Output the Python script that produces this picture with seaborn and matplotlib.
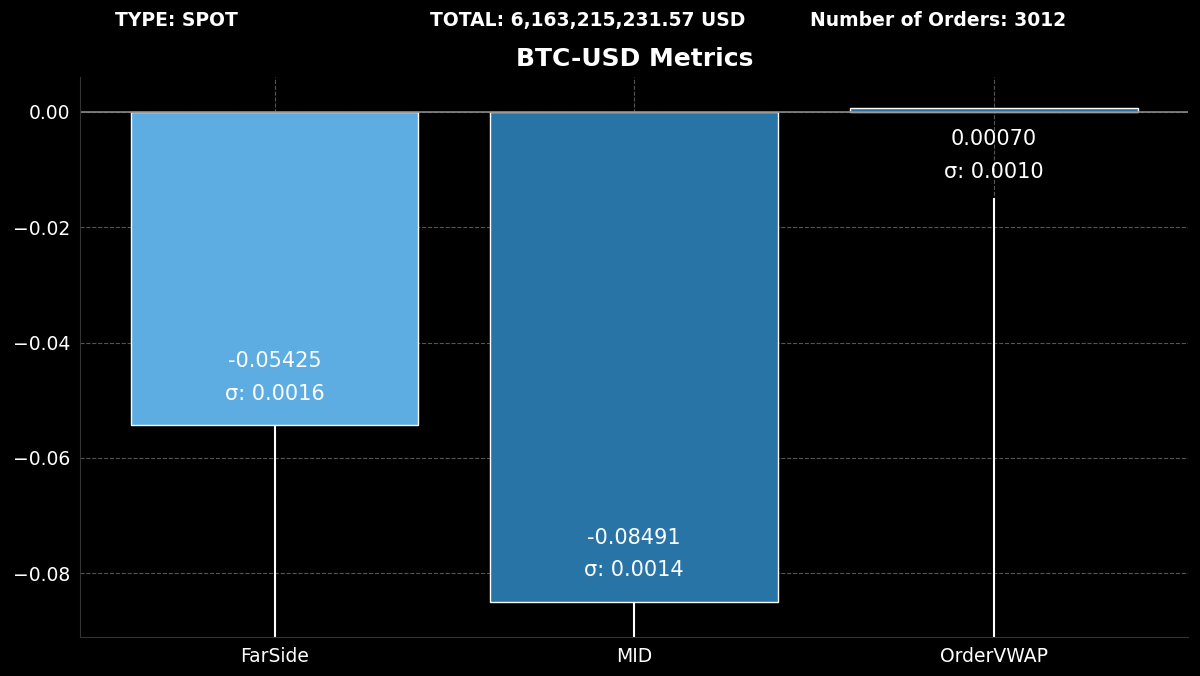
import matplotlib
matplotlib.use("Agg")
import matplotlib.pyplot as plt
import seaborn as sns
import pandas as pd

categories = ["FarSide", "MID", "OrderVWAP"]
values = [-0.05425, -0.08491, 0.00070]
sigmas = [0.0016, 0.0014, 0.0010]
colors = ["#5DADE2", "#2874A6", "#2E6E9E"]
header_type = "TYPE: SPOT"
header_total = "TOTAL: 6,163,215,231.57 USD"
header_orders = "Number of Orders: 3012"

sns.set_style("dark")
plt.rcParams.update({"figure.facecolor": "black", "axes.facecolor": "black",
                     "text.color": "white", "xtick.color": "white", "ytick.color": "white"})
plt.rcParams["font.family"] = ["DejaVu Sans"]

fig, ax = plt.subplots(figsize=(12, 6.76), dpi=100)
fig.subplots_adjust(left=0.067, right=0.99, top=0.886, bottom=0.058)

df = pd.DataFrame({"cat": categories, "val": values})
sns.barplot(data=df, x="cat", y="val", hue="cat", palette=colors, legend=False,
            width=0.8, saturation=1, ax=ax)

ymin, ymax = -0.091, 0.006
ax.set_ylim(ymin, ymax)
ax.set_xlim(-0.54, 2.54)
ax.axhline(0, color="#888888", lw=1.2)

for i, (v, s) in enumerate(zip(values, sigmas)):
    top = v + 0.011 if v < 0 else -0.0048
    ax.text(i, top, f"{v:.5f}", ha="center", va="center", fontsize=15, color="white")
    ax.text(i, top - 0.0056, f"σ: {s:.4f}", ha="center", va="center", fontsize=15, color="white")
    ax.vlines(i, ymin, min(v, -0.015), color="white", lw=1.5)

ax.grid(True, color="#555555", linestyle="--", linewidth=0.8)
ax.set_axisbelow(True)
ax.set_xlabel("")
ax.set_ylabel("")
ax.tick_params(labelsize=13.5, colors="white")
for sp in ["top", "right"]:
    ax.spines[sp].set_visible(False)
for sp in ["left", "bottom"]:
    ax.spines[sp].set_color("#333333")
ax.set_yticks([0.0, -0.02, -0.04, -0.06, -0.08])
ax.set_yticklabels(["0.00", "−0.02", "−0.04", "−0.06", "−0.08"])

ax.set_title("BTC-USD Metrics", fontsize=18, fontweight="bold", color="white", pad=8)
fig.text(0.096, 0.97, header_type, fontsize=13.5, fontweight="bold", va="center")
fig.text(0.358, 0.97, header_total, fontsize=13.5, fontweight="bold", va="center")
fig.text(0.675, 0.97, header_orders, fontsize=13.5, fontweight="bold", va="center")

fig.savefig("out.png", dpi=100, facecolor="black")
